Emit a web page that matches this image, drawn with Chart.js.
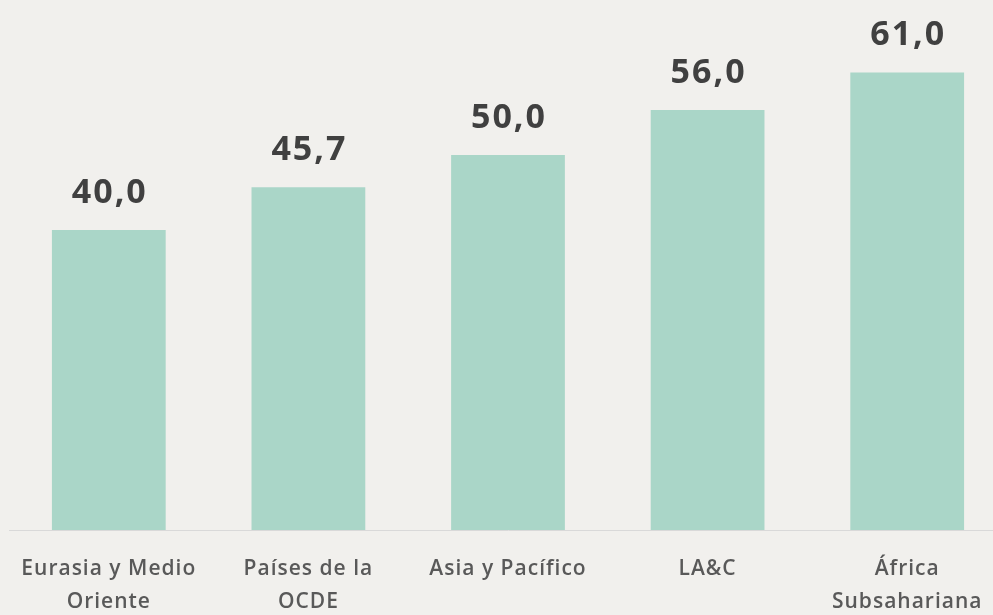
<!DOCTYPE html>
<html>
<head>
<meta charset="utf-8">
<script src="https://cdn.jsdelivr.net/npm/chart.js@4"></script>
<style>
  html, body { margin: 0; padding: 0; background: #f1f0ed; overflow: hidden; }
  #wrap { width: 1007px; height: 615px; position: relative; }
</style>
</head>
<body>
<div id="wrap"><canvas id="myChart"></canvas></div>
<script>
  // datos
  const categorias = [["Eurasia y Medio", "Oriente"], ["Países de la", "OCDE"], "Asia y Pacífico", "LA&C", ["África", "Subsahariana"]];
  const valores = [40.0, 45.7, 50.0, 56.0, 61.0];

  // un poco de espaciado entre letras, como en el original
  const espaciado = {
    id: 'espaciado',
    beforeDraw(chart) { chart.ctx.letterSpacing = '1px'; },
    afterDraw(chart) { chart.ctx.letterSpacing = '0px'; }
  };

  // etiquetas de valor encima de las barras (formato 40,0)
  const etiquetas = {
    id: 'etiquetas',
    afterDatasetsDraw(chart) {
      const ctx = chart.ctx;
      const meta = chart.getDatasetMeta(0);
      ctx.save();
      ctx.letterSpacing = '2px';
      ctx.font = 'bold 34px "Open Sans"';
      ctx.fillStyle = '#404040';
      ctx.textAlign = 'center';
      ctx.textBaseline = 'middle';
      meta.data.forEach((bar, i) => {
        ctx.fillText(valores[i].toFixed(1).replace('.', ','), bar.x + 1, bar.y - 37);
      });
      ctx.restore();
    }
  };

  const ctx = document.getElementById('myChart').getContext('2d');
  const chart = new Chart(ctx, {
    type: 'bar',
    data: {
      labels: categorias,
      datasets: [{
        data: valores,
        backgroundColor: '#aad6c8',
        barPercentage: 0.57,
        categoryPercentage: 1.0
      }]
    },
    options: {
      responsive: true,
      maintainAspectRatio: false,
      animation: false,
      layout: { padding: { left: 9, right: 0, top: 5, bottom: 0 } },
      plugins: {
        legend: { display: false },
        tooltip: { enabled: false }
      },
      scales: {
        x: {
          afterFit(scale) { scale.height = 85; },
          grid: { display: false },
          border: { display: true, color: '#d9d9d9', width: 1 },
          ticks: {
            color: '#595959',
            font: { family: 'Open Sans', size: 21, weight: '600', lineHeight: 1.6 },
            padding: 14,
            maxRotation: 0,
            autoSkip: false
          }
        },
        y: {
          display: false,
          min: 0,
          max: 70
        }
      }
    },
    plugins: [espaciado, etiquetas]
  });
</script>
</body>
</html>
